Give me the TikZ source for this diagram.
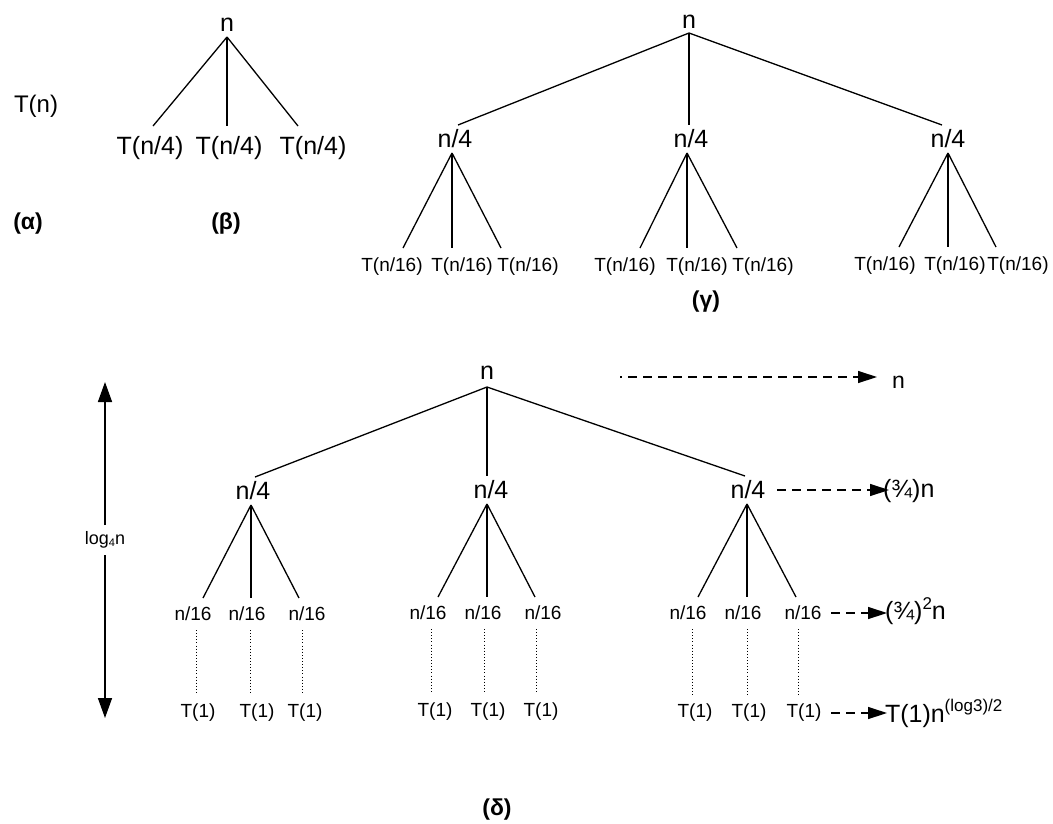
\documentclass[tikz,border=0pt]{standalone}
\usepackage{fontspec}
\setmainfont{Liberation Sans}
\usetikzlibrary{arrows.meta}

\tikzset{
  every node/.style={inner sep=0pt, outer sep=0pt},
  fs/.style={font=\fontsize{#1}{#1}\selectfont},
  caption/.style={font=\fontsize{23}{23}\selectfont\bfseries},
  gap/.style={minimum height=#1},
  branch/.style={line width=1.3pt},
  dots/.style={line width=0.9pt, dash pattern=on 0.9pt off 2.2pt},
  sumarrow/.style={line width=1.3pt, dash pattern=on 9pt off 6pt,
    -{Triangle[length=19pt,width=12pt]}},
  depth/.style={line width=1.5pt, -{Triangle[length=20pt,width=14pt]}}
}

\begin{document}
\begin{tikzpicture}[x=1pt, y=-1pt]
\useasboundingbox[fill=white] (0,0) rectangle (1053,823);

% ---------- (alpha): the recurrence ----------
\node[fs=24] (tn) at (36,106) {T(n)};
\node[caption] (ca) at (28,224) {(α)};

% ---------- (beta): one level ----------
\node[fs=25, gap=24] (bn) at (227,25) {n};
\node[fs=25, gap=44] (b1) at (150,148) {T(n/4)};
\node[fs=25, gap=44] (b2) at (229,148) {T(n/4)};
\node[fs=25, gap=44] (b3) at (313,148) {T(n/4)};
\draw[branch] (bn.south) -- ([xshift=3]b1.north);
\draw[branch] (bn.south) -- ([xshift=-2]b2.north);
\draw[branch] (bn.south) -- ([xshift=-15]b3.north);
\node[caption] (cb) at (226,224) {(β)};

% ---------- (gamma): two levels ----------
\node[fs=25, gap=22] (gn) at (689,22) {n};
\node[fs=25, gap=28] (g1) at (455,139) {n/4};
\node[fs=25, gap=28] (g2) at (691,139) {n/4};
\node[fs=25, gap=28] (g3) at (948,139) {n/4};
\draw[branch] (gn.south) -- ([xshift=3]g1.north);
\draw[branch] (gn.south) -- ([xshift=-2]g2.north);
\draw[branch] (gn.south) -- ([xshift=-6]g3.north);

\node[fs=19, gap=38] (g11) at (392,267) {T(n/16)};
\node[fs=19, gap=38] (g12) at (462,267) {T(n/16)};
\node[fs=19, gap=38] (g13) at (528,267) {T(n/16)};
\draw[branch] ([xshift=-3]g1.south) -- ([xshift=11]g11.north);
\draw[branch] ([xshift=-3]g1.south) -- ([xshift=-10]g12.north);
\draw[branch] ([xshift=-3]g1.south) -- ([xshift=-27]g13.north);

\node[fs=19, gap=38] (g21) at (625,267) {T(n/16)};
\node[fs=19, gap=38] (g22) at (697,267) {T(n/16)};
\node[fs=19, gap=38] (g23) at (763,267) {T(n/16)};
\draw[branch] ([xshift=-4]g2.south) -- ([xshift=15]g21.north);
\draw[branch] ([xshift=-4]g2.south) -- ([xshift=-10]g22.north);
\draw[branch] ([xshift=-4]g2.south) -- ([xshift=-26]g23.north);

\node[fs=19, gap=38] (g31) at (885,266) {T(n/16)};
\node[fs=19, gap=38] (g32) at (955,266) {T(n/16)};
\node[fs=19, gap=38] (g33) at (1018,266) {T(n/16)};
\draw[branch] (g3.south) -- ([xshift=14]g31.north);
\draw[branch] (g3.south) -- ([xshift=-7]g32.north);
\draw[branch] (g3.south) -- ([xshift=-22]g33.north);
\node[caption] (cg) at (706,302) {(γ)};

% ---------- (delta): the full recursion tree ----------
\node[fs=25, gap=28] (dn) at (487,373) {n};
\node[fs=25, gap=28] (d1) at (253,491) {n/4};
\node[fs=25, gap=28] (d2) at (491,490) {n/4};
\node[fs=25, gap=28] (d3) at (748,490) {n/4};
\draw[branch] (dn.south) -- ([xshift=2]d1.north);
\draw[branch] (dn.south) -- ([xshift=-4]d2.north);
\draw[branch] (dn.south) -- ([xshift=-3]d3.north);

% level two
\node[fs=19, gap=32] (e11) at (193,614) {n/16};
\node[fs=19, gap=32] (e12) at (247,614) {n/16};
\node[fs=19, gap=32] (e13) at (307,614) {n/16};
\node[fs=19, gap=32] (e21) at (428,613) {n/16};
\node[fs=19, gap=32] (e22) at (483,613) {n/16};
\node[fs=19, gap=32] (e23) at (543,613) {n/16};
\node[fs=19, gap=32] (e31) at (688,613) {n/16};
\node[fs=19, gap=32] (e32) at (743,613) {n/16};
\node[fs=19, gap=32] (e33) at (803,613) {n/16};
\draw[branch] ([xshift=-2]d1.south) -- ([xshift=10]e11.north);
\draw[branch] ([xshift=-2]d1.south) -- ([xshift=4]e12.north);
\draw[branch] ([xshift=-2]d1.south) -- ([xshift=-8]e13.north);
\draw[branch] ([xshift=-4]d2.south) -- ([xshift=10]e21.north);
\draw[branch] ([xshift=-4]d2.south) -- ([xshift=4]e22.north);
\draw[branch] ([xshift=-4]d2.south) -- ([xshift=-8]e23.north);
\draw[branch] ([xshift=-1]d3.south) -- ([xshift=10]e31.north);
\draw[branch] ([xshift=-1]d3.south) -- ([xshift=4]e32.north);
\draw[branch] ([xshift=-1]d3.south) -- ([xshift=-7]e33.north);

% leaves
\node[fs=19, gap=36] (t11) at (198,713) {T(1)};
\node[fs=19, gap=36] (t12) at (257,713) {T(1)};
\node[fs=19, gap=36] (t13) at (305,713) {T(1)};
\node[fs=19, gap=36] (t21) at (435,712) {T(1)};
\node[fs=19, gap=36] (t22) at (488,712) {T(1)};
\node[fs=19, gap=36] (t23) at (541,712) {T(1)};
\node[fs=19, gap=36] (t31) at (695,713) {T(1)};
\node[fs=19, gap=36] (t32) at (749,713) {T(1)};
\node[fs=19, gap=36] (t33) at (804,713) {T(1)};
\draw[dots] ([xshift=3]e11.south) -- ([xshift=3]e11.south |- t11.north);
\draw[dots] ([xshift=3]e12.south) -- ([xshift=3]e12.south |- t12.north);
\draw[dots] ([xshift=-5]e13.south) -- ([xshift=-5]e13.south |- t13.north);
\draw[dots] ([xshift=3]e21.south) -- ([xshift=3]e21.south |- t21.north);
\draw[dots] ([xshift=1]e22.south) -- ([xshift=1]e22.south |- t22.north);
\draw[dots] ([xshift=-7]e23.south) -- ([xshift=-7]e23.south |- t23.north);
\draw[dots] ([xshift=4]e31.south) -- ([xshift=4]e31.south |- t31.north);
\draw[dots] ([xshift=4]e32.south) -- ([xshift=4]e32.south |- t32.north);
\draw[dots] ([xshift=-5]e33.south) -- ([xshift=-5]e33.south |- t33.north);

% cost of each level
\coordinate (s0) at (620,377);
\node[fs=23, anchor=base west] (r0) at (892,388) {n};
\node[fs=25, anchor=base west] (r1) at (883,497) {(¾)n};
\node[fs=25, anchor=base west] (r2) at (885,619)
  {(¾)\raisebox{10pt}{\fontsize{17}{17}\selectfont 2}n};
\node[fs=25, anchor=base west] (r3) at (885,722)
  {T(1)n\raisebox{11pt}{\fontsize{17}{17}\selectfont (log3)/2}};
\draw[sumarrow, dash phase=7pt, shorten >=15pt] (s0) -- (s0 -| r0.west);
\draw[sumarrow, shorten >=6pt] ([xshift=12]d3.east) -- ([xshift=12]d3.east -| r1.west);
\draw[sumarrow, shorten >=8pt] ([xshift=10]e33.east) -- ([xshift=10]e33.east -| r2.west);
\draw[sumarrow, shorten >=8pt] ([xshift=10]t33.east) -- ([xshift=10]t33.east -| r3.west);

% tree height
\node[fs=18, gap=30] (lg) at (105,540)
  {log\raisebox{-2pt}{\fontsize{11}{11}\selectfont 4}n};
\coordinate (htop) at (105,382);
\coordinate (hbot) at (105,718);
\draw[depth] (lg.north) -- (htop);
\draw[depth] (lg.south) -- (hbot);

\node[caption] (cd) at (497,810) {(δ)};
\end{tikzpicture}
\end{document}
